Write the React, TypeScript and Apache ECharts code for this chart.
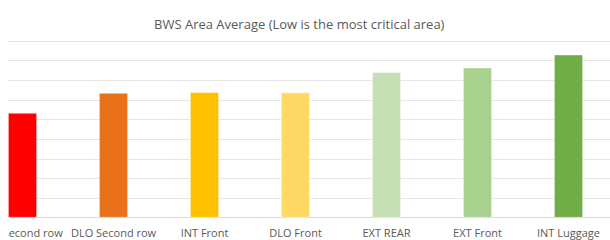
import React, { useEffect, useRef } from "react";
import * as echarts from "echarts";

const categories = ["INT Second row", "DLO Second row", "INT Front", "DLO Front", "EXT REAR", "EXT Front", "INT Luggage"];
const values = [5.34, 6.36, 6.39, 6.38, 7.41, 7.65, 8.31];
const barColors = ["#FF0000", "#E9711C", "#FFC000", "#FFD966", "#C5E0B4", "#A9D18E", "#70AD47"];
const titleText = "BWS Area Average (Low is the most critical area)";

export default function App() {
  const ref = useRef<HTMLDivElement>(null);
  useEffect(() => {
    if (!ref.current) return;
    const chart = echarts.init(ref.current, null, { renderer: "svg" });
    chart.setOption({
      animation: false,
      backgroundColor: "#ffffff",
      title: {
        text: titleText,
        left: 172,
        top: 12,
        textStyle: { color: "#595959", fontSize: 13, fontWeight: "normal", fontFamily: "Open Sans" },
      },
      grid: { left: 0, right: 0, top: 41, bottom: 22.3, containLabel: false },
      xAxis: {
        type: "category",
        data: categories,
        axisLine: { show: true, lineStyle: { color: "#D9D9D9", width: 1 } },
        axisTick: { show: false },
        axisLabel: { color: "#595959", fontSize: 11, fontFamily: "Open Sans", margin: 9, interval: 0 },
      },
      yAxis: {
        type: "value",
        min: 0,
        max: 9,
        interval: 1,
        axisLabel: { show: false },
        axisLine: { show: false },
        axisTick: { show: false },
        splitLine: { lineStyle: { color: "#E6E6E6", width: 1 } },
      },
      series: [
        {
          type: "bar",
          barWidth: 29,
          data: values.map((v, i) => ({
            value: v,
            itemStyle: { color: barColors[i], borderColor: "rgba(255,255,255,0.6)", borderWidth: 0.75 },
          })),
        },
      ],
    });
    return () => chart.dispose();
  }, []);
  return (
    <div style={{ position: "absolute", left: 8, top: 0, width: 602, height: 240, overflow: "hidden" }}>
      <div ref={ref} style={{ position: "absolute", left: -31.5, top: 0, width: 637, height: 240 }} />
    </div>
  );
}
